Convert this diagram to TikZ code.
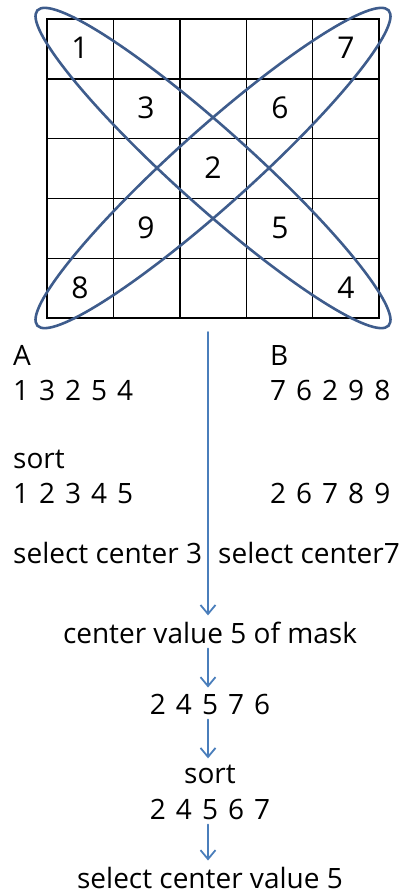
\documentclass[tikz,border=0pt]{standalone}
\usepackage{fontspec}
\setmainfont{Open Sans}
\usetikzlibrary{arrows.meta}
\definecolor{ringblue}{RGB}{62,92,140}
\definecolor{flowblue}{RGB}{74,126,187}
\newcommand{\widespaces}{\spaceskip 10pt\relax}

\begin{document}
\begin{tikzpicture}[x=1pt,y=-1pt,>={Straight Barb[length=9pt,width=15pt]},font=\fontsize{28}{32}\selectfont,line cap=round,
  cellnum/.style={inner sep=0pt,font=\fontsize{30}{34}\selectfont},
  txt/.style={inner sep=0pt,anchor=base west},
  mid/.style={inner sep=0pt,anchor=base},
  digits/.style={execute at begin node=\widespaces},
  flow/.style={->,flowblue,line width=1.8pt,shorten >=6pt,shorten <=5pt}]
\useasboundingbox (0,0) rectangle (401,894);
\draw[line width=1.4pt] (47,19) rectangle (379,318);
\draw[line width=1.4pt] (113.4,19) -- (113.4,318);
\draw[line width=1.4pt] (179.8,19) -- (179.8,318);
\draw[line width=1.4pt] (246.2,19) -- (246.2,318);
\draw[line width=1.4pt] (312.6,19) -- (312.6,318);
\draw[line width=1.4pt] (47,78.8) -- (379,78.8);
\draw[line width=1.4pt] (47,138.6) -- (379,138.6);
\draw[line width=1.4pt] (47,198.4) -- (379,198.4);
\draw[line width=1.4pt] (47,258.2) -- (379,258.2);
\node[cellnum] (n1) at (80,48) {1};
\node[cellnum] (n7) at (346,48) {7};
\node[cellnum] (n3) at (146,108) {3};
\node[cellnum] (n6) at (280,108) {6};
\node[cellnum] (n2) at (213,168) {2};
\node[cellnum] (n9) at (146,228) {9};
\node[cellnum] (n5) at (280,228) {5};
\node[cellnum] (n8) at (80,288) {8};
\node[cellnum] (n4) at (346,288) {4};
\draw[ringblue,line width=2.6pt,rotate around={-41.9:(213,168)}] (213,168) ellipse [x radius=236pt,y radius=38pt];
\draw[ringblue,line width=2.6pt,rotate around={41.9:(213,168)}] (213,168) ellipse [x radius=236pt,y radius=38pt];
\node[txt] (labA) at (13,365) {A};
\node[txt,digits] (rowA) at (13,400) {1 3 2 5 4};
\node[txt] (labB) at (270,365) {B};
\node[txt,digits] (rowB) at (270,400) {7 6 2 9 8};
\node[txt] (sortA) at (13,468) {sort};
\node[txt,digits] (sortedA) at (13,503) {1 2 3 4 5};
\node[txt,digits] (sortedB) at (270,503) {2 6 7 8 9};
\node[txt] (selA) at (13,563) {select center 3};
\node[txt] (selB) at (218,563) {select center7};
\node[mid] (mask) at (210,643) {center value 5 of mask};
\node[mid,digits] (seq) at (210,714) {2 4 5 7 6};
\node[mid] (sortC) at (210,783) {sort};
\node[mid,digits] (seqsorted) at (210,819) {2 4 5 6 7};
\node[mid] (result) at (210,888) {select center value 5};
\coordinate (top) at (208,327);
\draw[flow] (top) -- (top |- mask.north);
\draw[flow] (mask.south -| top) -- (seq.north -| top);
\draw[flow] (seq.south -| top) -- (sortC.north -| top);
\draw[flow] (seqsorted.south -| top) -- (result.north -| top);
\end{tikzpicture}
\end{document}
